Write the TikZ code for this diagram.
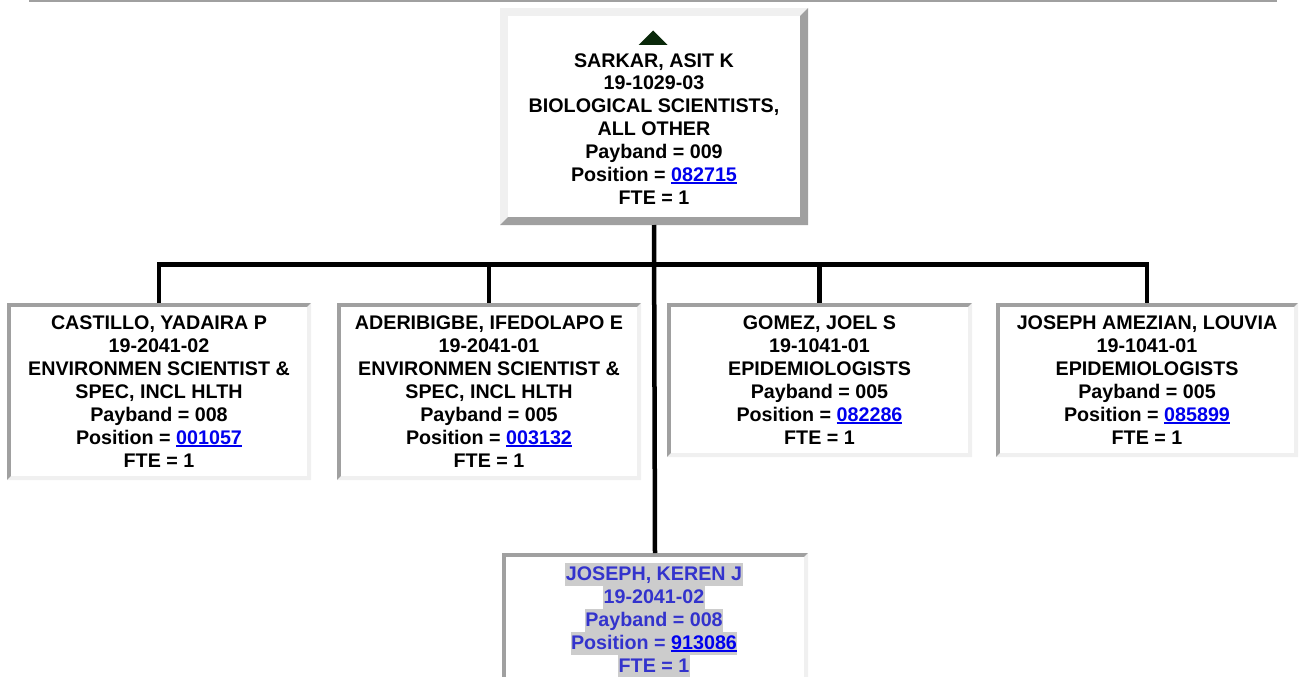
\documentclass[tikz,border=0pt]{standalone}
\usepackage{fontspec}
\setmainfont{Liberation Sans}
\usetikzlibrary{calc}
\definecolor{lg}{RGB}{240,240,240}
\definecolor{dg}{RGB}{160,160,160}
\definecolor{lnkblue}{RGB}{0,0,238}
\definecolor{selblue}{RGB}{51,51,204}
\definecolor{hl}{RGB}{204,204,204}
\definecolor{tri}{RGB}{10,40,10}
\newcommand{\lnk}[1]{\textcolor{lnkblue}{\setbox0\hbox{#1}\rlap{\rule[-2.6pt]{\wd0}{1.7pt}}\box0}}
\newcommand{\bevel}[4]{%
  \fill[#2] (#1.north west) rectangle (#1.south east);
  \fill[#3] (#1.north east) -- (#1.south east) -- (#1.south west)
     -- ($(#1.south west)+(#4,-#4)$) -- ($(#1.south east)+(-#4,-#4)$)
     -- ($(#1.north east)+(-#4,#4)$) -- cycle;
  \fill[white] ($(#1.north west)+(#4,#4)$) rectangle ($(#1.south east)+(-#4,-#4)$);
}
\begin{document}
\begin{tikzpicture}[x=1pt,y=-1pt,
  txt/.style={anchor=base, inner sep=0pt, font=\fontsize{19.7}{23}\selectfont\bfseries},
  hltxt/.style={txt, text=selblue, fill=hl, text height=17pt, text depth=6pt, inner xsep=0.5pt},
  box/.style={anchor=north west, inner sep=0pt, outer sep=0pt},
  conn/.style={line width=4.5pt, black}]
\useasboundingbox (0,0) rectangle (1299,677);
% top rule
\draw[dg, line width=2.5pt] (29,1.25) -- (1277,1.25);
% boxes
\node[box, minimum width=308pt, minimum height=217pt] (top) at (500,8) {};
\node[box, minimum width=304pt, minimum height=177pt] (b1) at (7,303) {};
\node[box, minimum width=304pt, minimum height=177pt] (b2) at (337,303) {};
\node[box, minimum width=305pt, minimum height=154pt] (b3) at (667,303) {};
\node[box, minimum width=302pt, minimum height=154pt] (b4) at (996,303) {};
\node[box, minimum width=306pt, minimum height=134pt] (bot) at (502,553) {};
\bevel{top}{lg}{dg}{8}
\bevel{b1}{dg}{lg}{4}
\bevel{b2}{dg}{lg}{4}
\bevel{b3}{dg}{lg}{4}
\bevel{b4}{dg}{lg}{4}
\begin{scope}
\clip (0,0) rectangle (1299,677);
\bevel{bot}{dg}{lg}{4}
\end{scope}
% connectors
\coordinate (bar) at (654,264.5);
\draw[conn] (top.south) -- (bot.north);
\draw[conn] (b1.north) -- (b1.north |- bar) -- (b4.north |- bar) -- (b4.north);
\draw[conn] (b2.north |- bar) -- (b2.north);
\draw[conn] (b3.north |- bar) -- (b3.north);
% top box text
\fill[tri] (638.5,45) -- (667.5,45) -- (653,30.5) -- cycle;
\node[txt] (t1) at (654,67) {SARKAR, ASIT K};
\node[txt] (t2) at (654,89.9) {19-1029-03};
\node[txt] (t3) at (654,112.8) {BIOLOGICAL SCIENTISTS,};
\node[txt] (t4) at (654,135.7) {ALL OTHER};
\node[txt] (t5) at (654,158.6) {Payband = 009};
\node[txt] (t6) at (654,181.5) {Position = \lnk{082715}};
\node[txt] (t7) at (654,204.4) {FTE = 1};
% box 1
\node[txt] (a1) at (159,329) {CASTILLO, YADAIRA P};
\node[txt] (a2) at (159,352) {19-2041-02};
\node[txt] (a3) at (159,375) {ENVIRONMEN SCIENTIST \&};
\node[txt] (a4) at (159,398) {SPEC, INCL HLTH};
\node[txt] (a5) at (159,421) {Payband = 008};
\node[txt] (a6) at (159,444) {Position = \lnk{001057}};
\node[txt] (a7) at (159,467) {FTE = 1};
% box 2
\node[txt] (c1) at (489,329) {ADERIBIGBE, IFEDOLAPO E};
\node[txt] (c2) at (489,352) {19-2041-01};
\node[txt] (c3) at (489,375) {ENVIRONMEN SCIENTIST \&};
\node[txt] (c4) at (489,398) {SPEC, INCL HLTH};
\node[txt] (c5) at (489,421) {Payband = 005};
\node[txt] (c6) at (489,444) {Position = \lnk{003132}};
\node[txt] (c7) at (489,467) {FTE = 1};
% box 3
\node[txt] (d1) at (819.5,329) {GOMEZ, JOEL S};
\node[txt] (d2) at (819.5,352) {19-1041-01};
\node[txt] (d3) at (819.5,375) {EPIDEMIOLOGISTS};
\node[txt] (d4) at (819.5,398) {Payband = 005};
\node[txt] (d5) at (819.5,421) {Position = \lnk{082286}};
\node[txt] (d6) at (819.5,444) {FTE = 1};
% box 4
\node[txt] (e1) at (1147,329) {JOSEPH AMEZIAN, LOUVIA};
\node[txt] (e2) at (1147,352) {19-1041-01};
\node[txt] (e3) at (1147,375) {EPIDEMIOLOGISTS};
\node[txt] (e4) at (1147,398) {Payband = 005};
\node[txt] (e5) at (1147,421) {Position = \lnk{085899}};
\node[txt] (e6) at (1147,444) {FTE = 1};
% bottom box
\node[hltxt] (f1) at (654,580) {JOSEPH, KEREN J};
\node[hltxt] (f2) at (654,603) {19-2041-02};
\node[hltxt] (f3) at (654,626) {Payband = 008};
\node[hltxt] (f4) at (654,649) {Position = \lnk{913086}};
\node[hltxt] (f5) at (654,672) {FTE = 1};
\end{tikzpicture}
\end{document}
